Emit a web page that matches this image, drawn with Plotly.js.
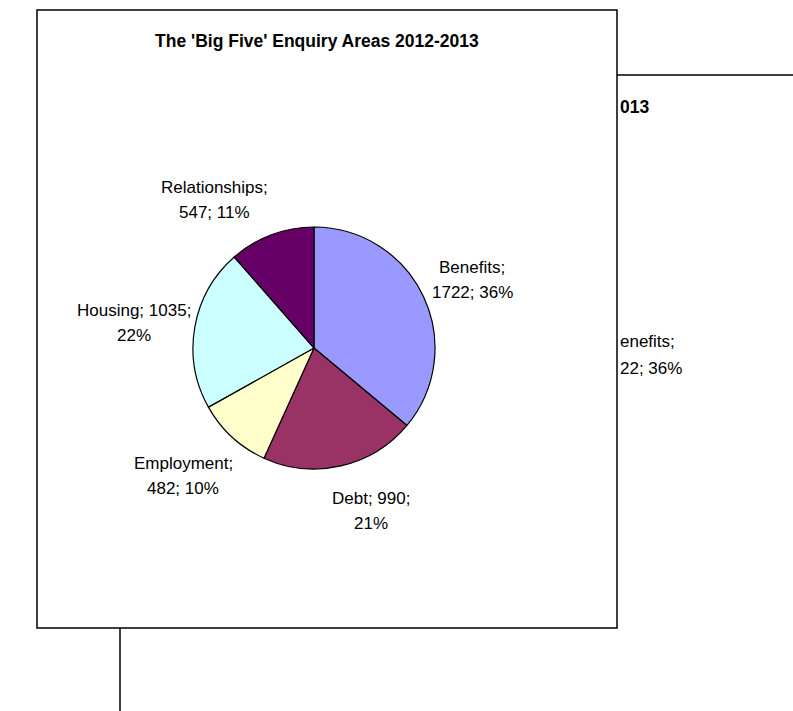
<!DOCTYPE html>
<html>
<head>
<meta charset="utf-8">
<script src="https://cdn.plot.ly/plotly-3.0.1.min.js"></script>
<style>html,body{margin:0;padding:0;background:#fff;}#chart{width:793px;height:711px;}</style>
</head>
<body>
<div id="chart"></div>
<script>
// ---- data ----
const categories = ['Benefits', 'Debt', 'Employment', 'Housing', 'Relationships'];
const values = [1722, 990, 482, 1035, 547];
const sliceColors = ['#9999FF', '#993366', '#FFFFCC', '#CCFFFF', '#660066'];
// how many label parts ("name", "value", "pct") go on the first line
const firstLineParts = [1, 2, 1, 2, 1];
const chartTitle = "The 'Big Five' Enquiry Areas 2012-2013";

// ---- layout helpers (pixels -> paper) ----
const W = 793, H = 711;
const px = x => x / W;
const py = y => 1 - y / H;

// pie geometry in pixels
const cx = 314, cy = 348, R = 121;

// label centres (pixels), one per category
const labelPos = [[472, 280], [371, 511], [183, 476], [134, 323], [214, 200]];
const lineGap = 25;
const FONT = 'Liberation Sans, Arial, sans-serif';
const labelFont = {family: FONT, size: 17, color: '#000'};
const titleFont = {family: FONT, size: 17.5, color: '#000'};

const total = values.reduce((a, b) => a + b, 0);
const annotations = [];
categories.forEach((c, i) => {
  const pct = Math.round(values[i] / total * 100) + '%';
  const parts = [c, String(values[i]), pct];
  const l1 = parts.slice(0, firstLineParts[i]).join('; ') + ';';
  const l2 = parts.slice(firstLineParts[i]).join('; ');
  const [x, y] = labelPos[i];
  [[l1, y - lineGap / 2], [l2, y + lineGap / 2]].forEach(([t, yy]) => {
    annotations.push({text: t, x: px(x), y: py(yy), xref: 'paper', yref: 'paper',
      xanchor: 'center', yanchor: 'middle', showarrow: false, font: labelFont});
  });
});

// title of the front chart
annotations.push({text: '<b>' + chartTitle + '</b>', x: px(317), y: py(41), xref: 'paper', yref: 'paper',
  xanchor: 'center', yanchor: 'middle', showarrow: false, font: titleFont});

// visible fragments of the chart behind
const backTitleTail = '013';
const backLabel1 = 'enefits;';
const backLabel2 = '22; 36%';
annotations.push({text: '<b>' + backTitleTail + '</b>', x: px(618), y: py(107), xref: 'paper', yref: 'paper',
  xanchor: 'left', yanchor: 'middle', showarrow: false, font: titleFont});
annotations.push({text: backLabel1, x: px(618), y: py(341), xref: 'paper', yref: 'paper',
  xanchor: 'left', yanchor: 'middle', showarrow: false, font: labelFont});
annotations.push({text: backLabel2, x: px(618), y: py(368), xref: 'paper', yref: 'paper',
  xanchor: 'left', yanchor: 'middle', showarrow: false, font: labelFont});

const shapes = [
  // back chart frame
  {type: 'rect', xref: 'paper', yref: 'paper', x0: px(120), x1: px(900), y0: py(800), y1: py(75),
   line: {color: '#000', width: 1.5}, fillcolor: '#fff', layer: 'below'},
  // front chart frame
  {type: 'rect', xref: 'paper', yref: 'paper', x0: px(37), x1: px(617), y0: py(628), y1: py(10),
   line: {color: '#000', width: 1.5}, fillcolor: '#fff', layer: 'below'}
];

const trace = {
  type: 'pie',
  labels: categories,
  values: values,
  sort: false,
  direction: 'clockwise',
  rotation: 0,
  textinfo: 'none',
  hoverinfo: 'label+value+percent',
  marker: {colors: sliceColors, line: {color: '#000', width: 1.2}},
  domain: {x: [px(cx - R), px(cx + R)], y: [py(cy + R), py(cy - R)]},
  showlegend: false
};

const layout = {
  width: W, height: H,
  margin: {l: 0, r: 0, t: 0, b: 0},
  paper_bgcolor: '#fff',
  showlegend: false,
  shapes: shapes,
  annotations: annotations
};

Plotly.newPlot('chart', [trace], layout, {displayModeBar: false, staticPlot: true});
</script>
</body>
</html>
